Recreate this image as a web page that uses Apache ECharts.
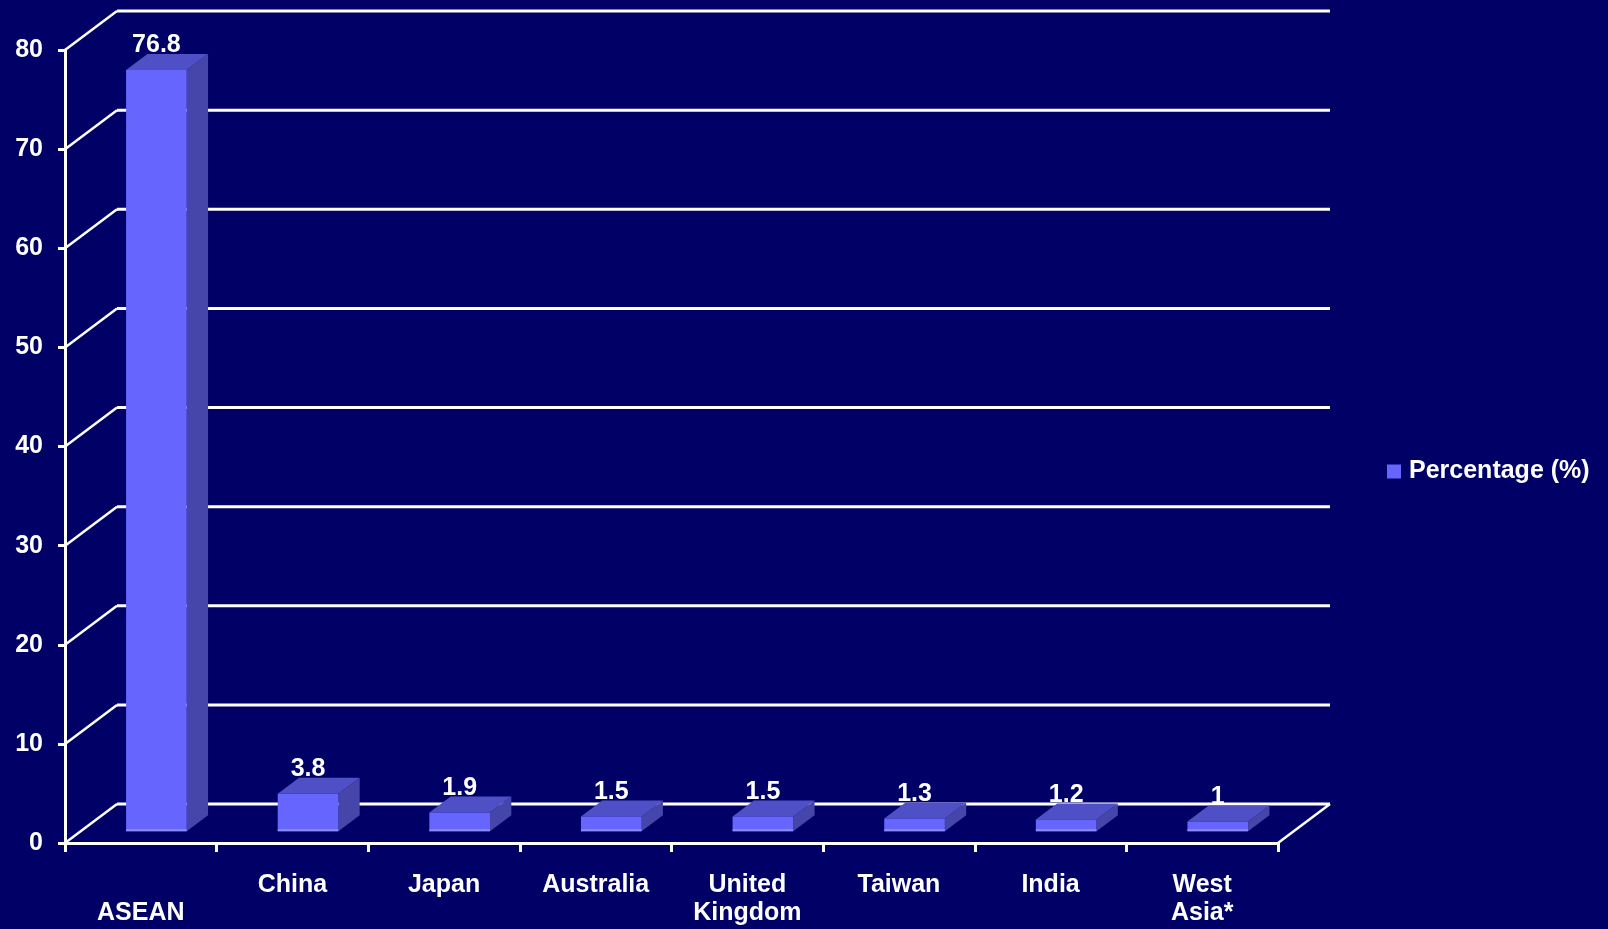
<!DOCTYPE html>
<html>
<head>
<meta charset="utf-8">
<script src="https://cdn.jsdelivr.net/npm/echarts@6/dist/echarts.min.js"></script>
<style>
html,body{margin:0;padding:0;background:#000066;}
#chart{width:1608px;height:929px;}
</style>
</head>
<body>
<div id="chart"></div>
<script>
const categories = ['ASEAN', 'China', 'Japan', 'Australia', 'United\nKingdom', 'Taiwan', 'India', 'West\nAsia*'];
const percentages = [76.8, 3.8, 1.9, 1.5, 1.5, 1.3, 1.2, 1];
const yTicks = [0, 10, 20, 30, 40, 50, 60, 70, 80];
const seriesName = 'Percentage (%)';

const DX = 52, DY = -39;          // wall depth offset (px)
const FRONT = 0.3, DEPTH = 0.41;  // bar placement within depth
const FONT = 'Liberation Sans, Arial, sans-serif';

const chart = echarts.init(document.getElementById('chart'));

const option = {
  backgroundColor: '#000066',
  animation: false,
  grid: { left: 65, right: 330, top: 50, bottom: 86 },
  legend: {
    left: 1387, top: 459, padding: 0,
    itemWidth: 14, itemHeight: 14,
    data: [{ name: seriesName, icon: 'rect' }],
    textStyle: { color: '#ffffff', fontSize: 25, fontWeight: 'bold', fontFamily: FONT, padding: [0, 0, 0, 3] }
  },
  xAxis: {
    type: 'category',
    data: categories,
    boundaryGap: true,
    axisLine: { show: true, lineStyle: { color: '#ffffff', width: 3 } },
    axisTick: { show: true, length: 9, lineStyle: { color: '#ffffff', width: 3 } },
    axisLabel: {
      interval: 0, color: '#ffffff', fontSize: 25, fontWeight: 'bold', fontFamily: FONT,
      lineHeight: 28, margin: 28,
      formatter: (v, i) => i === 0 ? '\n' + v : v
    },
    splitLine: { show: false }
  },
  yAxis: {
    type: 'value', min: 0, max: 80, interval: 10,
    axisLine: { show: true, lineStyle: { color: '#ffffff', width: 3 } },
    axisTick: { show: true, length: 7, lineStyle: { color: '#ffffff', width: 3 } },
    axisLabel: { color: '#ffffff', fontSize: 25, fontWeight: 'bold', fontFamily: FONT, margin: 22 },
    splitLine: { show: false }
  },
  series: [
    {
      type: 'custom',
      name: 'wall',
      silent: true,
      clip: false,
      z: 1,
      data: yTicks.map(v => [0, v]),
      encode: { x: 0, y: 1 },
      renderItem: function (params, api) {
        const cs = params.coordSys;
        const left = cs.x, right = cs.x + cs.width;
        const y = api.coord([0, api.value(1)])[1];
        const style = { stroke: '#ffffff', lineWidth: 3 };
        const children = [
          { type: 'line', shape: { x1: left + DX, y1: y + DY, x2: right + DX, y2: y + DY }, style: style },
          { type: 'line', shape: { x1: left, y1: y, x2: left + DX, y2: y + DY }, style: { stroke: '#ffffff', lineWidth: 2.5 } }
        ];
        if (api.value(1) === 0) {
          children.push({ type: 'line', shape: { x1: right, y1: y, x2: right + DX, y2: y + DY }, style: { stroke: '#ffffff', lineWidth: 2.5 } });
        }
        return { type: 'group', children: children };
      }
    },
    {
      type: 'custom',
      name: seriesName,
      clip: false,
      z: 5,
      itemStyle: { color: '#6666FF' },
      data: percentages.map((v, i) => [i, v]),
      encode: { x: 0, y: 1 },
      renderItem: function (params, api) {
        const i = api.value(0), v = api.value(1);
        const base = api.coord([i, 0]);
        const top = api.coord([i, v]);
        const bw = api.size([1, 0])[0] * 0.4;
        const fdx = DX * FRONT, fdy = DY * FRONT;
        const ddx = DX * DEPTH, ddy = DY * DEPTH;
        const fx0 = base[0] - bw / 2 + fdx, fx1 = fx0 + bw;
        const fyb = base[1] + fdy, fyt = top[1] + fdy;
        return {
          type: 'group',
          children: [
            { type: 'polygon', shape: { points: [[fx1, fyt], [fx1 + ddx, fyt + ddy], [fx1 + ddx, fyb + ddy], [fx1, fyb]] }, style: { fill: '#4545AA' } },
            { type: 'polygon', shape: { points: [[fx0, fyt], [fx1, fyt], [fx1 + ddx, fyt + ddy], [fx0 + ddx, fyt + ddy]] }, style: { fill: '#5050C6' } },
            { type: 'rect', shape: { x: fx0, y: fyt, width: bw, height: fyb - fyt }, style: { fill: '#6666FF' } },
            { type: 'line', shape: { x1: fx0, y1: fyb - 1, x2: fx1, y2: fyb - 1 }, style: { stroke: '#8C8CFF', lineWidth: 2 } },
            { type: 'text', x: fx0 + bw / 2, y: fyt + ddy + 4,
              style: { text: String(v), fill: '#ffffff', font: 'bold 25px ' + FONT, textAlign: 'center', textVerticalAlign: 'bottom' } }
          ]
        };
      }
    }
  ]
};
chart.setOption(option);
</script>
</body>
</html>
